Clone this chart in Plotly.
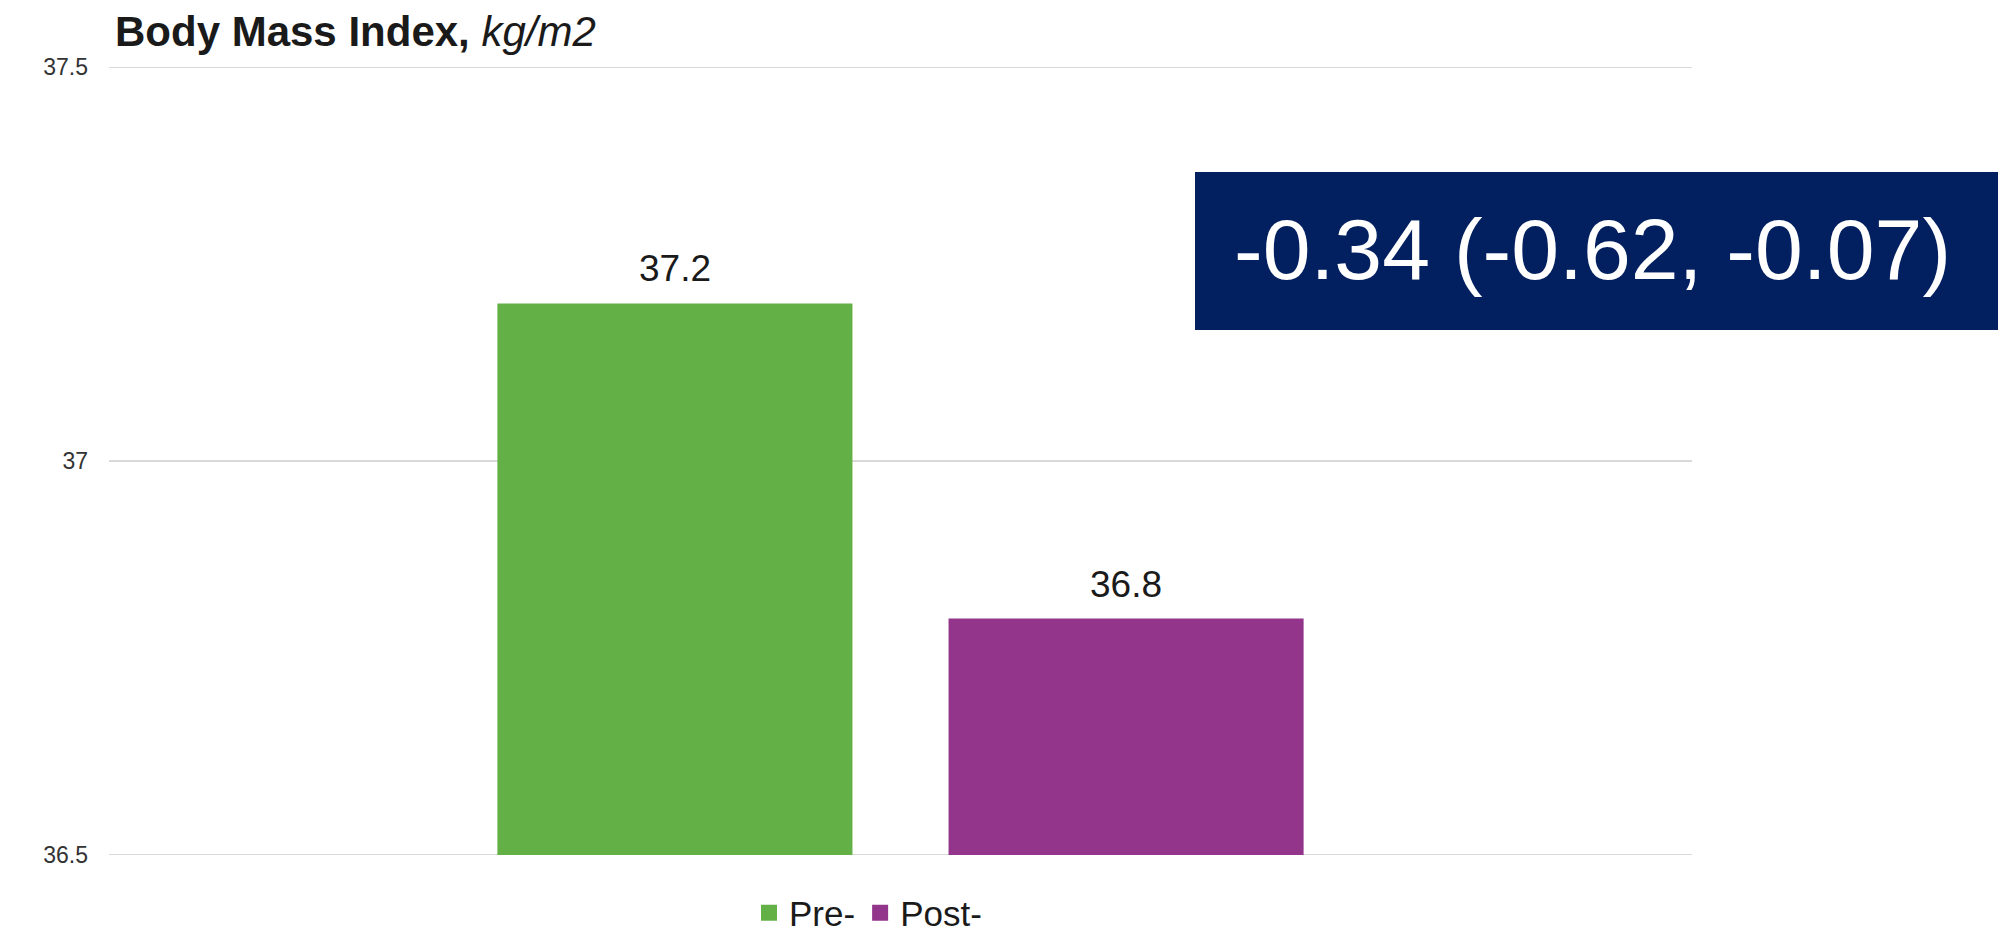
import plotly.graph_objects as go

categories = ["Body Mass Index"]
series_names = ["Pre-", "Post-"]
pre_values = [37.2]
post_values = [36.8]
series_colors = ["#63B146", "#92358B"]
tick_values = [36.5, 37, 37.5]
tick_labels = ["36.5", "37", "37.5"]
effect_text = "-0.34 (-0.62, -0.07)"

FONT = "Liberation Sans, Arial, sans-serif"

W, H = 2008, 934
L, R, T, B = 109, 316, 67, 79
pw, ph = W - L - R, H - T - B
BARGAP, BARGROUPGAP = 0.43, 0.213
slot = pw * (1 - BARGAP) / 2

fig = go.Figure()

# gridlines drawn as shapes so the edge lines are kept
for tv in tick_values:
    fig.add_shape(type="line", xref="paper", yref="y", x0=0, x1=1, y0=tv, y1=tv,
                  line=dict(color="#D9D9D9", width=2), layer="below")

all_vals = [pre_values, post_values]
for i, (name, vals, col) in enumerate(zip(series_names, all_vals, series_colors)):
    fig.add_trace(go.Bar(
        x=categories, y=vals, name=name, marker=dict(color=col, line=dict(width=0)),
        showlegend=False, legendgroup=name,
    ))
    for c, v in zip(categories, vals):
        fig.add_annotation(x=c, y=v, xref="x", yref="y", text=f"{v:.1f}",
                           showarrow=False, yanchor="bottom", yshift=12,
                           xshift=(i - 0.5) * slot,
                           font=dict(size=37, color="#1a1a1a", family=FONT))

# legend entries with larger square swatches
for name, col in zip(series_names, series_colors):
    fig.add_trace(go.Scatter(
        x=[None], y=[None], mode="markers", name=name, legendgroup=name,
        marker=dict(symbol="square", size=19, color=col, line=dict(width=0)),
        hoverinfo="skip",
    ))

def px(x):
    return (x - L) / pw

def py(y):
    return (H - B - y) / ph

fig.add_shape(type="rect", xref="paper", yref="paper",
              x0=px(1195), x1=px(1998), y0=py(330), y1=py(172),
              fillcolor="#02205F", line=dict(width=0), layer="above")
fig.add_annotation(xref="paper", yref="paper", x=px(1592), y=py(249),
                   text=effect_text, showarrow=False,
                   font=dict(size=86, color="white", family=FONT),
                   xanchor="center", yanchor="middle")

fig.update_layout(
    width=W, height=H,
    margin=dict(l=L, r=R, t=T, b=B, autoexpand=False),
    paper_bgcolor="white", plot_bgcolor="white",
    barmode="group", bargap=BARGAP, bargroupgap=BARGROUPGAP,
    title=dict(text="<b>Body Mass Index,</b> <i>kg/m2</i>", x=115 / W, xanchor="left",
               y=1 - 31 / H, yanchor="middle", xref="container", yref="container",
               font=dict(size=42, color="#1a1a1a", family=FONT)),
    font=dict(family=FONT, color="#333333"),
    legend=dict(orientation="h", x=px(868), xanchor="center", y=py(913), yanchor="middle",
                font=dict(size=35, color="#1a1a1a", family=FONT), itemwidth=30,
                itemsizing="trace", traceorder="normal"),
    xaxis=dict(showticklabels=False, showgrid=False, showline=False, zeroline=False, ticks=""),
    yaxis=dict(range=[36.5, 37.5], tickvals=tick_values, ticktext=tick_labels,
               showgrid=False, zeroline=False,
               showline=False, ticks="", ticklabelstandoff=20,
               tickfont=dict(size=23, color="#333333", family=FONT)),
)

fig.write_html("out.html")
